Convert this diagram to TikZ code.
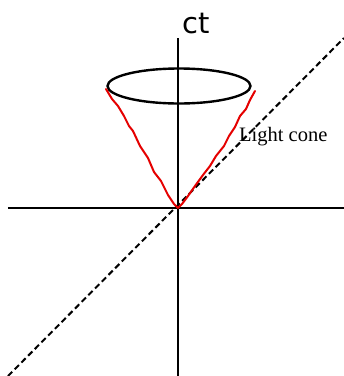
\documentclass[tikz,border=0pt]{standalone}
\usepackage{fontspec}
\setmainfont{Liberation Serif}
\newfontfamily\handfont{DejaVu Sans}
\begin{document}
\begin{tikzpicture}[x=1pt,y=-1pt,
  axisline/.style={line width=2.4pt,black},
  conering/.style={line width=2.4pt,black},
  lightline/.style={line width=2pt,black,dash pattern=on 6pt off 3.5pt},
  redline/.style={line width=2pt,red!90!black,line join=round,line cap=round},
  lbl/.style={inner sep=0pt,anchor=base west}]
\useasboundingbox (0,0) rectangle (344,376);
\fill[white] (0,0) rectangle (344,376);
\coordinate (O) at (178,208);
\coordinate (ytop) at (178,38);
\coordinate (ybot) at (178,376);
\coordinate (xl) at (8,208);
\coordinate (xr) at (344,208);
\coordinate (dl) at (8,376);
\coordinate (dr) at (344,38);
\draw[axisline] (ytop) -- (ybot);
\draw[axisline] (xl) -- (xr);
\draw[lightline] (dl) -- (dr);
\draw[conering] (179,86) ellipse [x radius=71.5pt, y radius=17.5pt];
\draw[redline] (106,89) -- (112,99) -- (118,106) -- (124,116) -- (129,126) -- (133,131) -- (140,146) -- (148,158) -- (154,172) -- (161,181) -- (168,195) -- (174,204) -- (O);
\draw[redline] (255,91) -- (250,100) -- (246,109) -- (240,116) -- (235,127) -- (229,136) -- (224,146) -- (216,156) -- (210,166) -- (203,175) -- (195,186) -- (188,196) -- (182,204) -- (O);
\node[lbl,font=\handfont\fontsize{29}{30}\selectfont] (ct) at (182,33) {ct};
\node[lbl,font=\fontsize{20.5}{22}\selectfont] (lc) at (239,141) {Light cone};
\end{tikzpicture}
\end{document}
